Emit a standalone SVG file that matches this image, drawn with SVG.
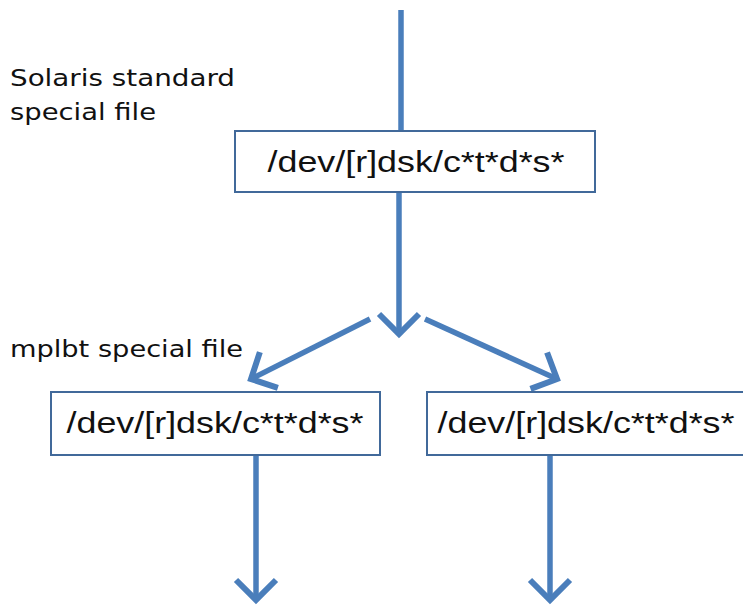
<svg xmlns="http://www.w3.org/2000/svg" width="743" height="606" viewBox="0 0 743 606">
<style>
.box{fill:#fff;stroke:#41699a;stroke-width:2}
.path{font-family:"Liberation Sans","Open Sans",sans-serif;font-size:29px;fill:#111}
.lbl{font-family:"DejaVu Sans",Verdana,sans-serif;font-size:23px;fill:#111}
.con{stroke:#4a7ebb;stroke-width:5.5;fill:none}
</style>
<defs>
<marker id="v" markerUnits="userSpaceOnUse" viewBox="-26 -26 52 52" markerWidth="52" markerHeight="52" refX="0" refY="0" orient="auto">
<path d="M-20,-20 L0,0 L-20,20" fill="none" stroke="#4a7ebb" stroke-width="6"/>
</marker>
</defs>
<g id="connectors">
<line class="con" x1="401" y1="10" x2="401" y2="131"/>
<line class="con" x1="399" y1="193" x2="399" y2="334" marker-end="url(#v)"/>
<line class="con" x1="370" y1="319" x2="251" y2="379" marker-end="url(#v)"/>
<line class="con" x1="425" y1="319" x2="557" y2="379" marker-end="url(#v)"/>
<line class="con" x1="256" y1="456" x2="256" y2="600" marker-end="url(#v)"/>
<line class="con" x1="550" y1="456" x2="550" y2="600" marker-end="url(#v)"/>
</g>
<g id="label-solaris">
<text class="lbl" x="10" y="86" textLength="225" lengthAdjust="spacingAndGlyphs">Solaris standard</text>
<text class="lbl" x="10" y="120" textLength="146" lengthAdjust="spacingAndGlyphs">special file</text>
</g>
<g id="label-mplbt">
<text class="lbl" x="10" y="357" textLength="233" lengthAdjust="spacingAndGlyphs">mplbt special file</text>
</g>
<g id="node-top">
<rect class="box" x="235" y="131" width="360" height="61"/>
<text class="path" x="416" y="172" text-anchor="middle" textLength="297" lengthAdjust="spacingAndGlyphs">/dev/[r]dsk/c*t*d*s*</text>
</g>
<g id="node-left">
<rect class="box" x="51" y="392" width="329" height="63"/>
<text class="path" x="215" y="433" text-anchor="middle" textLength="297" lengthAdjust="spacingAndGlyphs">/dev/[r]dsk/c*t*d*s*</text>
</g>
<g id="node-right">
<rect class="box" x="427" y="392" width="330" height="63"/>
<text class="path" x="586" y="433" text-anchor="middle" textLength="297" lengthAdjust="spacingAndGlyphs">/dev/[r]dsk/c*t*d*s*</text>
</g>
</svg>
